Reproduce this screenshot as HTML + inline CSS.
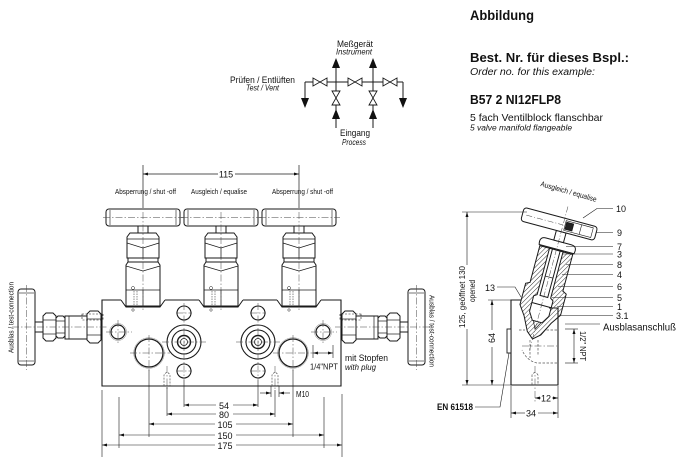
<!DOCTYPE html>
<html><head><meta charset="utf-8">
<style>
html,body{margin:0;padding:0;background:#fff;}
svg{display:block;}
text{font-family:"Liberation Sans",Arial,sans-serif;fill:#111;}
.it{font-style:italic;}
.b{font-weight:bold;}
</style></head><body>
<svg width="680" height="467" viewBox="0 0 680 467" xmlns="http://www.w3.org/2000/svg">
<defs>
 <pattern id="h" width="3.2" height="3.2" patternUnits="userSpaceOnUse" patternTransform="rotate(30)"><rect width="3.2" height="3.2" fill="#fff"/><line x1="0" y1="0" x2="0" y2="3.2" stroke="#222" stroke-width="0.9"/></pattern>
 <marker id="ar" viewBox="0 0 10 6" refX="10" refY="3" markerWidth="5" markerHeight="3" markerUnits="userSpaceOnUse" orient="auto"><path d="M0,0L10,3L0,6Z" fill="#111"/></marker>
 <g id="vv" fill="#fff" stroke="#1a1a1a" stroke-width="1">
  <rect x="-37" y="209" width="74" height="17" rx="3"/>
  <line x1="-33" y1="210" x2="-33" y2="225" stroke-width="0.6"/>
  <line x1="33" y1="210" x2="33" y2="225" stroke-width="0.6"/>
  <rect x="-5" y="226" width="10" height="7"/>
  <path d="M-16,237 L-13,233 L13,233 L16,237 L16,258 L-16,258 Z"/>
  <line x1="-16" y1="239" x2="16" y2="239" stroke-width="0.7"/>
  <path d="M-16,243 L0,248 L16,243" fill="none" stroke-width="0.7"/>
  <line x1="0" y1="248" x2="0" y2="258" stroke-width="0.7"/>
  <rect x="-15" y="258" width="30" height="4"/>
  <path d="M-17,265 L-15,262 L15,262 L17,265 L17,306 L-17,306 Z"/>
  <path d="M-17,266 L0,271 L17,266" fill="none" stroke-width="0.7"/>
  <line x1="-17" y1="290" x2="17" y2="290" stroke-width="0.7"/>
  <line x1="0" y1="290" x2="0" y2="306" stroke-width="0.7"/>
  <line x1="-9" y1="291" x2="-9" y2="306" stroke-width="0.5" stroke-dasharray="1.5,1"/>
  <line x1="-6" y1="291" x2="-6" y2="306" stroke-width="0.5" stroke-dasharray="1.5,1"/>
  <circle cx="-10" cy="288" r="1.5" stroke-width="0.5"/>
  <path d="M-22,300 L-17,307 L17,307 L22,300" fill="none"/>
  <circle cx="-10" cy="310" r="1.2" stroke-width="0.5"/>
 </g>
 <g id="hv" fill="#fff" stroke="#1a1a1a" stroke-width="1">
  <rect x="18" y="289" width="17" height="76" rx="3"/>
  <line x1="19" y1="293" x2="34" y2="293" stroke-width="0.6"/>
  <line x1="19" y1="361" x2="34" y2="361" stroke-width="0.6"/>
  <rect x="35" y="322" width="8" height="10"/>
  <path d="M43,316 L46,313 L53,313 L56,316 L56,338 L53,341 L46,341 L43,338 Z"/>
  <line x1="43" y1="320" x2="56" y2="320" stroke-width="0.7"/>
  <line x1="43" y1="334" x2="56" y2="334" stroke-width="0.7"/>
  <path d="M56,318 L58,316 L63,316 L65,318 L65,336 L63,338 L58,338 L56,336 Z"/>
  <line x1="56" y1="321" x2="65" y2="321" stroke-width="0.7"/>
  <line x1="56" y1="333" x2="65" y2="333" stroke-width="0.7"/>
  <rect x="65" y="316" width="22" height="23"/>
  <line x1="69" y1="316" x2="69" y2="339" stroke-width="0.7"/>
  <path d="M87,314 L90,311 L98,311 L101,314 L101,340 L98,343 L90,343 L87,340 Z"/>
  <line x1="87" y1="319" x2="101" y2="319" stroke-width="0.7"/>
  <line x1="87" y1="335" x2="101" y2="335" stroke-width="0.7"/>
  <rect x="82" y="314" width="21" height="6" fill="none" stroke-dasharray="2,1.5" stroke-width="0.6"/>
 </g>
</defs>

<!-- ============ TOP RIGHT TEXT ============ -->
<text x="470" y="20" font-size="14" class="b" textLength="64" lengthAdjust="spacingAndGlyphs">Abbildung</text>
<text x="470" y="62" font-size="13" class="b" textLength="159" lengthAdjust="spacingAndGlyphs">Best. Nr. für dieses Bspl.:</text>
<text x="470" y="75" font-size="10" class="it" textLength="125" lengthAdjust="spacingAndGlyphs">Order no. for this example:</text>
<text x="470" y="104" font-size="12.5" class="b" textLength="91" lengthAdjust="spacingAndGlyphs">B57 2 NI12FLP8</text>
<text x="470" y="121" font-size="10.5" textLength="133" lengthAdjust="spacingAndGlyphs">5 fach Ventilblock flanschbar</text>
<text x="470" y="130.5" font-size="8" class="it" textLength="102" lengthAdjust="spacingAndGlyphs">5 valve manifold flangeable</text>

<!-- ============ SCHEMATIC ============ -->
<g font-size="9.5" text-anchor="middle">
 <text x="355" y="47" textLength="36" lengthAdjust="spacingAndGlyphs">Meßgerät</text>
 <text x="354" y="54.5" font-size="8" class="it" textLength="36" lengthAdjust="spacingAndGlyphs">Instrument</text>
 <text x="262.5" y="83" textLength="65" lengthAdjust="spacingAndGlyphs">Prüfen / Entlüften</text>
 <text x="262.5" y="90.5" font-size="8" class="it" textLength="33" lengthAdjust="spacingAndGlyphs">Test / Vent</text>
 <text x="355" y="136" textLength="30" lengthAdjust="spacingAndGlyphs">Eingang</text>
 <text x="354" y="145" font-size="8" class="it" textLength="24" lengthAdjust="spacingAndGlyphs">Process</text>
</g>
<g stroke="#1a1a1a" stroke-width="1" fill="none">
 <line x1="305" y1="82" x2="403" y2="82"/>
 <line x1="305" y1="82" x2="305" y2="99"/>
 <line x1="403" y1="82" x2="403" y2="99"/>
 <line x1="336" y1="66" x2="336" y2="128"/>
 <line x1="373" y1="66" x2="373" y2="128"/>
</g>
<g fill="#111">
 <polygon points="301,98 309,98 305,108"/>
 <polygon points="399,98 407,98 403,108"/>
 <polygon points="336,58 332,68 340,68"/>
 <polygon points="373,58 369,68 377,68"/>
 <polygon points="336,109 332,119 340,119"/>
 <polygon points="373,109 369,119 377,119"/>
</g>
<g fill="#fff" stroke="#1a1a1a" stroke-width="0.9">
 <polygon points="313,78 313,86 327,78 327,86"/>
 <polygon points="348,78 348,86 362,78 362,86"/>
 <polygon points="383,78 383,86 397,78 397,86"/>
 <polygon points="332,91 340,91 332,105 340,105"/>
 <polygon points="369,91 377,91 369,105 377,105"/>
</g>

<!-- ============ FRONT VIEW ============ -->
<g font-size="7.5" text-anchor="middle">
 <text x="145.5" y="194" textLength="61" lengthAdjust="spacingAndGlyphs">Absperrung / shut -off</text>
 <text x="219" y="194" textLength="56" lengthAdjust="spacingAndGlyphs">Ausgleich / equalise</text>
 <text x="302.5" y="194" textLength="61" lengthAdjust="spacingAndGlyphs">Absperrung / shut -off</text>
 <text x="226" y="177.5" font-size="9">115</text>
 <text transform="translate(13.5,317.5) rotate(-90)" textLength="71" lengthAdjust="spacingAndGlyphs">Ausblas / test-connection</text>
 <text transform="translate(429.5,331) rotate(90)" textLength="72" lengthAdjust="spacingAndGlyphs">Ausblas / test-connection</text>
</g>
<g stroke="#1a1a1a" stroke-width="0.7" fill="none">
 <line x1="143" y1="165" x2="143" y2="208"/>
 <line x1="299" y1="165" x2="299" y2="208"/>
 <path d="M218,174 L143,174" marker-end="url(#ar)"/>
 <path d="M235,174 L299,174" marker-end="url(#ar)"/>
</g>

<use href="#vv" x="143"/>
<use href="#vv" x="221"/>
<use href="#vv" x="299"/>
<use href="#hv"/>
<use href="#hv" transform="translate(443,0) scale(-1,1)"/>

<g stroke="#1a1a1a" stroke-width="1.1" fill="none">
 <path d="M121,300 L102,300 L102,386 L341,386 L341,300 L321,300"/>
 <line x1="165" y1="300" x2="199" y2="300"/>
 <line x1="243" y1="300" x2="277" y2="300"/>
</g>
<g fill="none" stroke="#1a1a1a">
 <circle cx="118" cy="332" r="7" stroke-width="1.2"/>
 <circle cx="118" cy="332" r="8.5" stroke="#888" stroke-width="0.5"/>
 <circle cx="149" cy="353" r="14" stroke-width="1.3"/>
 <circle cx="149" cy="353" r="15.3" stroke="#888" stroke-width="0.5"/>
 <circle cx="184" cy="342" r="17" stroke-width="1.1"/>
 <circle cx="184" cy="342" r="12" stroke-width="1.1"/>
 <circle cx="184" cy="342" r="6.5" stroke-width="1.4"/>
 <circle cx="184" cy="342" r="3.5" stroke-width="0.8"/>
 <circle cx="184" cy="313" r="7" stroke-width="1.1"/>
 <circle cx="184" cy="371" r="7" stroke-width="1.1"/>
 <circle cx="258" cy="342" r="17" stroke-width="1.1"/>
 <circle cx="258" cy="342" r="12" stroke-width="1.1"/>
 <circle cx="258" cy="342" r="6.5" stroke-width="1.4"/>
 <circle cx="258" cy="342" r="3.5" stroke-width="0.8"/>
 <circle cx="258" cy="313" r="7" stroke-width="1.1"/>
 <circle cx="258" cy="371" r="7" stroke-width="1.1"/>
 <circle cx="293" cy="353" r="14" stroke-width="1.3"/>
 <circle cx="293" cy="353" r="15.3" stroke="#888" stroke-width="0.5"/>
 <circle cx="323" cy="332" r="7" stroke-width="1.2"/>
 <circle cx="323" cy="332" r="8.5" stroke="#888" stroke-width="0.5"/>
</g>
<g fill="none" stroke="#555" stroke-width="0.7" stroke-dasharray="2,1.2">
 <path d="M164,386 L164,375 Q167,370 170,375 L170,386"/>
 <path d="M272,386 L272,375 Q275,370 278,375 L278,386"/>
</g>
<g stroke="#444" stroke-width="0.5" stroke-dasharray="7,2,1.5,2" fill="none">
 <line x1="103" y1="217.5" x2="184" y2="217.5"/>
 <line x1="181" y1="217.5" x2="262" y2="217.5"/>
 <line x1="259" y1="217.5" x2="340" y2="217.5"/>
 <line x1="143" y1="212" x2="143" y2="312"/>
 <line x1="221" y1="212" x2="221" y2="312"/>
 <line x1="299" y1="212" x2="299" y2="312"/>
 <line x1="26.5" y1="285" x2="26.5" y2="370"/>
 <line x1="416.5" y1="285" x2="416.5" y2="370"/>
 <line x1="12" y1="327" x2="108" y2="327"/>
 <line x1="335" y1="327" x2="431" y2="327"/>
 <line x1="106" y1="332" x2="132" y2="332"/>
 <line x1="118" y1="320" x2="118" y2="344"/>
 <line x1="311" y1="332" x2="337" y2="332"/>
 <line x1="323" y1="320" x2="323" y2="344"/>
 <line x1="130" y1="353" x2="170" y2="353"/>
 <line x1="273" y1="353" x2="313" y2="353"/>
 <line x1="162" y1="342" x2="206" y2="342"/>
 <line x1="236" y1="342" x2="280" y2="342"/>
 <line x1="176" y1="313" x2="192" y2="313"/>
 <line x1="250" y1="313" x2="266" y2="313"/>
 <line x1="176" y1="371" x2="192" y2="371"/>
 <line x1="250" y1="371" x2="266" y2="371"/>
 <line x1="184" y1="303" x2="184" y2="380"/>
 <line x1="258" y1="303" x2="258" y2="380"/>
 <line x1="149" y1="335" x2="149" y2="372"/>
 <line x1="293" y1="335" x2="293" y2="372"/>
 <line x1="167" y1="366" x2="167" y2="390"/>
 <line x1="275" y1="366" x2="275" y2="390"/>
</g>

<g stroke="#1a1a1a" stroke-width="0.6" fill="none">
 <line x1="102" y1="390" x2="102" y2="457"/>
 <line x1="119" y1="397" x2="119" y2="448"/>
 <line x1="149" y1="370" x2="149" y2="437"/>
 <line x1="167" y1="387" x2="167" y2="416"/>
 <line x1="184" y1="380" x2="184" y2="407"/>
 <line x1="258" y1="380" x2="258" y2="407"/>
 <line x1="275" y1="390" x2="275" y2="417"/>
 <line x1="293" y1="370" x2="293" y2="437"/>
 <line x1="324" y1="397" x2="324" y2="448"/>
 <line x1="342" y1="394" x2="342" y2="457"/>
 <path d="M216,405 L184,405" marker-end="url(#ar)"/>
 <path d="M233,405 L258,405" marker-end="url(#ar)"/>
 <path d="M216,414 L167,414" marker-end="url(#ar)"/>
 <path d="M233,414 L275,414" marker-end="url(#ar)"/>
 <path d="M215,424 L149,424" marker-end="url(#ar)"/>
 <path d="M236,424 L293,424" marker-end="url(#ar)"/>
 <path d="M215,435 L119,435" marker-end="url(#ar)"/>
 <path d="M236,435 L324,435" marker-end="url(#ar)"/>
 <path d="M215,445 L102,445" marker-end="url(#ar)"/>
 <path d="M236,445 L342,445" marker-end="url(#ar)"/>
 <line x1="271" y1="386" x2="271" y2="397"/>
 <line x1="279" y1="386" x2="279" y2="397"/>
 <path d="M260,393 L271,393" marker-end="url(#ar)"/>
 <path d="M290,393 L279,393" marker-end="url(#ar)"/>
 <line x1="313" y1="345" x2="313" y2="358"/>
 <line x1="333" y1="345" x2="333" y2="358"/>
 <path d="M323,353 L313,353" marker-end="url(#ar)"/>
 <path d="M323,353 L333,353" marker-end="url(#ar)"/>
</g>
<g font-size="9" text-anchor="middle">
 <text x="224" y="409">54</text>
 <text x="224" y="418">80</text>
 <text x="225" y="428">105</text>
 <text x="225" y="439">150</text>
 <text x="225" y="449">175</text>
</g>
<text x="296" y="397" font-size="8.5" textLength="13" lengthAdjust="spacingAndGlyphs">M10</text>
<text x="310" y="369.5" font-size="8.5" textLength="28" lengthAdjust="spacingAndGlyphs">1/4"NPT</text>
<text x="345" y="361" font-size="9" textLength="43" lengthAdjust="spacingAndGlyphs">mit Stopfen</text>
<text x="345" y="370" font-size="8.5" class="it" textLength="31" lengthAdjust="spacingAndGlyphs">with plug</text>

<!-- ============ SIDE VIEW ============ -->
<g transform="translate(533,337) rotate(15)" stroke="#1a1a1a" stroke-width="1">
 <path d="M-17,-90 L17,-90 L17,-52 L21,-50 L21,-28 L14,-18 L7,-4 L0,2 L-7,-4 L-14,-18 L-21,-28 L-21,-50 L-17,-52 Z" fill="url(#h)"/>
 <path d="M-7,-90 L7,-90 L7,-42 L10,-40 L10,-24 L5,-16 L-5,-16 L-10,-24 L-10,-40 L-7,-42 Z" fill="#fff"/>
 <rect x="-4" y="-90" width="8" height="48" fill="#fff"/>
 <line x1="-10" y1="-33" x2="10" y2="-33"/>
 <line x1="-4" y1="-62" x2="4" y2="-62" stroke-width="0.7"/>
 <path d="M-4,-16 L0,-8 L4,-16" fill="none" stroke-width="0.7"/>
 <path d="M-18,-91 Q-20,-99 -13,-99 L13,-99 Q20,-99 18,-91 Z" fill="#fff"/>
 <rect x="-5" y="-109" width="10" height="10" fill="#fff"/>
 <rect x="-42" y="-123" width="76" height="14" rx="3" fill="#fff"/>
 <rect x="2" y="-121" width="28" height="10" fill="none" stroke-width="0.6"/>
 <rect x="3" y="-119.5" width="7" height="7" fill="#222"/>
 <line x1="18" y1="-121" x2="18" y2="-111" stroke-width="0.6"/>
 <line x1="-38" y1="-116" x2="0" y2="-116" stroke="#444" stroke-dasharray="6,2,1,2" stroke-width="0.5"/>
 <line x1="0" y1="-135" x2="0" y2="15" stroke="#444" stroke-dasharray="6,2,1,2" stroke-width="0.5"/>
</g>
<g stroke="#1a1a1a" stroke-width="1.1" fill="none">
 <path d="M521,300 L511,300 L511,385 L558,385 L558,308 L549,308"/>
</g>
<rect x="507" y="329" width="4" height="24" fill="#fff" stroke="#1a1a1a" stroke-width="0.9"/>
<g fill="none" stroke="#555" stroke-width="0.7" stroke-dasharray="2.5,1.5">
 <path d="M557,330 L545,330"/>
 <path d="M557,363 L537,363 Q527,361 522,350"/>
 <path d="M530,340 L530,358"/>
 <path d="M538,340 L538,356"/>
 <path d="M532,385 L532,375 Q535,370 538,375 L538,385"/>
 <path d="M519,330 L525,330"/>
</g>
<g stroke="#444" stroke-width="0.5" stroke-dasharray="7,2,1.5,2" fill="none">
 <line x1="535" y1="366" x2="535" y2="402"/>
 <line x1="522" y1="346" x2="557" y2="346"/>
</g>
<g stroke="#1a1a1a" stroke-width="0.6" fill="none">
 <line x1="462" y1="212" x2="527" y2="212"/>
 <line x1="462" y1="385" x2="511" y2="385"/>
 <path d="M467,265 L467,212" marker-end="url(#ar)"/>
 <path d="M467,329 L467,385" marker-end="url(#ar)"/>
 <line x1="488" y1="300" x2="511" y2="300"/>
 <path d="M492,330 L492,300" marker-end="url(#ar)"/>
 <path d="M492,347 L492,385" marker-end="url(#ar)"/>
 <line x1="565" y1="329" x2="578" y2="329"/>
 <line x1="565" y1="363" x2="578" y2="363"/>
 <path d="M574,346 L574,329" marker-end="url(#ar)"/>
 <path d="M574,346 L574,363" marker-end="url(#ar)"/>
 <line x1="511" y1="386" x2="511" y2="418"/>
 <line x1="558" y1="386" x2="558" y2="418"/>
 <path d="M541,398 L535,398" marker-end="url(#ar)"/>
 <path d="M552,398 L558,398" marker-end="url(#ar)"/>
 <path d="M525,413 L511,413" marker-end="url(#ar)"/>
 <path d="M538,413 L558,413" marker-end="url(#ar)"/>
 <polyline points="583,218 597,208.5 613,208.5"/>
 <line x1="596" y1="232.5" x2="613" y2="232.5"/>
 <line x1="566" y1="246.5" x2="613" y2="246.5"/>
 <line x1="563" y1="254" x2="613" y2="254"/>
 <line x1="566" y1="264.5" x2="613" y2="264.5"/>
 <line x1="562" y1="274.5" x2="613" y2="274.5"/>
 <line x1="558" y1="286.5" x2="613" y2="286.5"/>
 <line x1="552" y1="297.5" x2="613" y2="297.5"/>
 <line x1="557" y1="306.5" x2="613" y2="306.5"/>
 <line x1="561" y1="315.5" x2="613" y2="315.5"/>
 <line x1="565" y1="324" x2="600" y2="324"/>
 <polyline points="497,287 515,287 521,297"/>
 <polyline points="475,407 500,407 509,353"/>
</g>
<g font-size="9">
 <text x="616" y="212">10</text>
 <text x="617" y="236">9</text>
 <text x="617" y="250">7</text>
 <text x="617" y="257.5">3</text>
 <text x="617" y="268">8</text>
 <text x="617" y="278">4</text>
 <text x="617" y="290">6</text>
 <text x="617" y="301">5</text>
 <text x="617" y="310">1</text>
 <text x="616" y="319">3.1</text>
 <text x="485" y="291">13</text>
 <text x="546" y="401.5" text-anchor="middle">12</text>
 <text x="531" y="416.5" text-anchor="middle">34</text>
</g>
<text x="603" y="330.5" font-size="10" textLength="73" lengthAdjust="spacingAndGlyphs">Ausblasanschluß</text>
<text x="437" y="410" font-size="9.5" class="b" textLength="36" lengthAdjust="spacingAndGlyphs">EN 61518</text>
<text transform="translate(568,194) rotate(16)" font-size="7.5" text-anchor="middle" textLength="58" lengthAdjust="spacingAndGlyphs">Ausgleich / equalise</text>
<text transform="translate(465,297) rotate(-90)" font-size="8" text-anchor="middle" textLength="62" lengthAdjust="spacingAndGlyphs">125, geöffnet 130</text>
<text transform="translate(475,291) rotate(-90)" font-size="8" text-anchor="middle" textLength="22" lengthAdjust="spacingAndGlyphs">opened</text>
<text transform="translate(495,338) rotate(-90)" font-size="9" text-anchor="middle">64</text>
<text transform="translate(580,346) rotate(90)" font-size="8.5" text-anchor="middle" textLength="30" lengthAdjust="spacingAndGlyphs">1/2" NPT</text>
</svg>
</body></html>
